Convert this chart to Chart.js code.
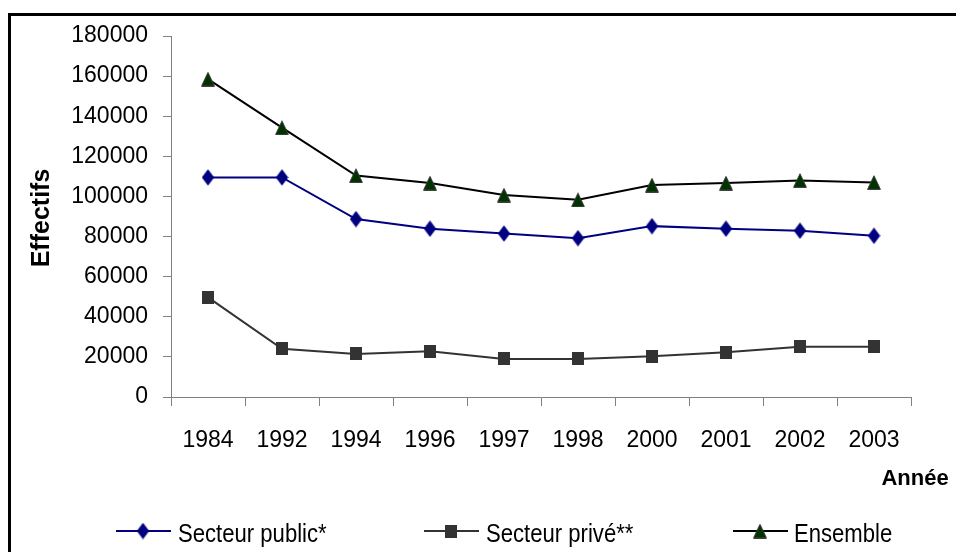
<!DOCTYPE html>
<html>
<head>
<meta charset="utf-8">
<script src="https://cdn.jsdelivr.net/npm/chart.js@4/dist/chart.umd.min.js"></script>
<style>
  html, body { margin: 0; padding: 0; background: #fff; }
  #wrap { position: relative; width: 956px; height: 552px; overflow: hidden; }
  #frame { position: absolute; left: 8px; top: 13px; width: 1100px; height: 700px;
           border-top: 3px solid #000; border-left: 3px solid #000; box-sizing: border-box; }
  #c { position: absolute; left: 0; top: 0; }
</style>
</head>
<body>
<div id="wrap">
  <div id="frame"></div>
  <canvas id="c" width="956" height="552"></canvas>
</div>
<script>
const categories = ['1984','1992','1994','1996','1997','1998','2000','2001','2002','2003'];
const secteurPublic = [109500,109500,88700,83900,81500,79200,85200,83900,82900,80400];
const secteurPrive  = [49700,24000,21500,22800,19000,19000,20300,22300,25000,25000];
const ensemble      = [158500,134300,110400,106700,100700,98300,105700,106700,108000,107000];
const seriesNames = ['Secteur public*','Secteur privé**','Ensemble'];
const yTitle = 'Effectifs';
const xTitle = 'Année';

function makeMarker(w, h, draw) {
  const cv = document.createElement('canvas');
  cv.width = w; cv.height = h;
  const g = cv.getContext('2d');
  draw(g, w, h);
  return cv;
}
const diamond = makeMarker(13, 17, (g, w, h) => {
  g.fillStyle = '#000080';
  g.beginPath(); g.moveTo(w/2, 0.3); g.lineTo(w-0.3, h/2); g.lineTo(w/2, h-0.3); g.lineTo(0.3, h/2); g.closePath(); g.fill();
});
const square = makeMarker(12, 13, (g, w, h) => {
  g.fillStyle = '#333333'; g.fillRect(0, 0, w, h);
});
const triangle = makeMarker(14, 15, (g, w, h) => {
  g.fillStyle = '#003300'; g.strokeStyle = '#3a3a3a'; g.lineWidth = 1;
  g.beginPath(); g.moveTo(w/2, 0.8); g.lineTo(w-0.6, h-0.6); g.lineTo(0.6, h-0.6); g.closePath(); g.fill(); g.stroke();
});

const FONT = '"Liberation Sans", Arial, sans-serif';

const decorPlugin = {
  id: 'decor',
  afterDraw(chart) {
    const ctx = chart.ctx;
    ctx.save();
    ctx.fillStyle = '#000';
    ctx.font = 'bold 25px ' + FONT;
    ctx.textAlign = 'center';
    ctx.textBaseline = 'alphabetic';
    ctx.save();
    ctx.translate(49, 218);
    ctx.rotate(-Math.PI / 2);
    ctx.fillText(yTitle, 0, 0);
    ctx.restore();
    ctx.font = 'bold 22px ' + FONT;
    ctx.fillText(xTitle, 915, 485);
    const items = [
      { x0: 116, x1: 171, mx: 143, color: '#000080', img: diamond, tx: 178 },
      { x0: 424, x1: 479, mx: 451, color: '#333333', img: square, tx: 486 },
      { x0: 733, x1: 788, mx: 760, color: '#000000', img: triangle, tx: 794 }
    ];
    const ly = 531;
    items.forEach((it, i) => {
      ctx.strokeStyle = it.color; ctx.lineWidth = 2;
      ctx.beginPath(); ctx.moveTo(it.x0, ly); ctx.lineTo(it.x1, ly); ctx.stroke();
      ctx.drawImage(it.img, it.mx - it.img.width/2, ly - it.img.height/2);
      ctx.save();
      ctx.fillStyle = '#000';
      ctx.font = '26px ' + FONT;
      ctx.textAlign = 'left';
      ctx.textBaseline = 'alphabetic';
      ctx.translate(it.tx, 542);
      ctx.scale(0.85, 1);
      ctx.fillText(seriesNames[i], 0, 0);
      ctx.restore();
    });
    ctx.restore();
  }
};

new Chart(document.getElementById('c'), {
  type: 'line',
  data: {
    labels: categories,
    datasets: [
      { label: seriesNames[0], data: secteurPublic, borderColor: '#000080', borderWidth: 2,
        pointStyle: diamond, pointRadius: 7, pointHoverRadius: 7, tension: 0 },
      { label: seriesNames[1], data: secteurPrive, borderColor: '#333333', borderWidth: 2,
        pointStyle: square, pointRadius: 7, pointHoverRadius: 7, tension: 0 },
      { label: seriesNames[2], data: ensemble, borderColor: '#000000', borderWidth: 2,
        pointStyle: triangle, pointRadius: 7, pointHoverRadius: 7, tension: 0 }
    ]
  },
  options: {
    responsive: false,
    animation: false,
    devicePixelRatio: 1,
    layout: { padding: { top: 36, right: 45, left: 0, bottom: 0 } },
    plugins: { legend: { display: false }, tooltip: { enabled: false }, title: { display: false } },
    scales: {
      x: {
        offset: true,
        grid: { offset: true, drawOnChartArea: false, drawTicks: true, tickLength: 9, color: '#808080', lineWidth: 1 },
        border: { display: true, color: '#808080', width: 1 },
        ticks: { color: '#000', font: { family: FONT, size: 23 }, padding: 21, maxRotation: 0, autoSkip: false },
        afterFit(s) { s.height = 155; }
      },
      y: {
        min: 0, max: 180000,
        grid: { drawOnChartArea: false, drawTicks: true, tickLength: 8, color: '#808080', lineWidth: 1 },
        border: { display: true, color: '#808080', width: 1 },
        ticks: { stepSize: 20000, color: '#000', font: { family: FONT, size: 23 }, padding: 15,
                 callback: v => String(v) },
        afterFit(s) { s.width = 171; }
      }
    }
  },
  plugins: [decorPlugin]
});
</script>
</body>
</html>
